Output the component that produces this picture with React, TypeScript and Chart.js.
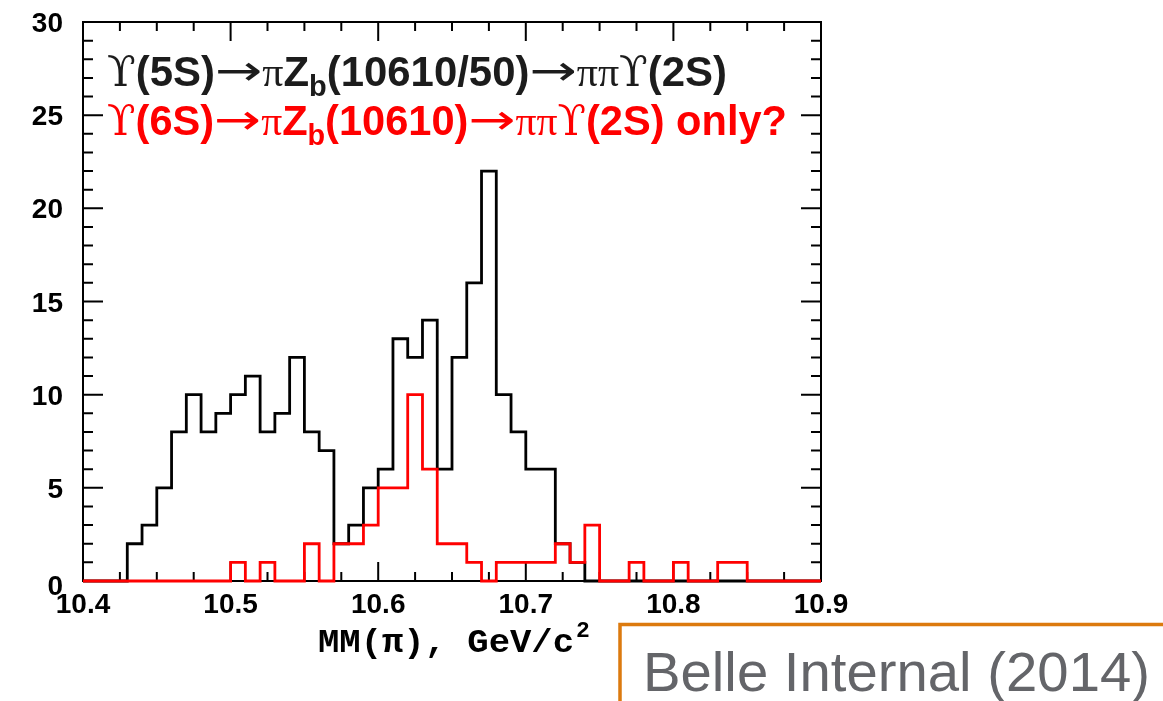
import { useEffect, useRef } from "react";
import { Chart, registerables } from "chart.js";

Chart.register(...registerables);

// ---- data (bin contents, 0.01 GeV bins starting at 10.40) ----
const binStart = 10.4;
const binWidth = 0.01;
const upsilon5S = [
  0, 0, 0, 2, 3, 5, 8, 10, 8, 9,
  10, 11, 8, 9, 12, 8, 7, 2, 3, 5,
  6, 13, 12, 14, 6, 12, 16, 22, 10, 8,
  6, 6, 2, 1, 0, 0, 0, 0, 0, 0,
  0, 0, 0, 0, 0, 0, 0, 0, 0, 0,
];
const upsilon6S = [
  0, 0, 0, 0, 0, 0, 0, 0, 0, 0,
  1, 0, 1, 0, 0, 2, 0, 2, 2, 3,
  5, 5, 10, 6, 2, 2, 1, 0, 1, 1,
  1, 1, 2, 1, 3, 0, 0, 1, 0, 0,
  1, 0, 0, 1, 1, 0, 0, 0, 0, 0,
];
const xTickValues = [10.4, 10.5, 10.6, 10.7, 10.8, 10.9];
const xTickLabels = ["10.4", "10.5", "10.6", "10.7", "10.8", "10.9"];
const yTickValues = [0, 5, 10, 15, 20, 25, 30];
const yTickLabels = ["0", "5", "10", "15", "20", "25", "30"];
const xMinorStep = 0.025;
const yMinorStep = 1;

const axisTitle = "MM(π), GeV/c";
const axisTitleSup = "2";
const watermark = "Belle Internal (2014)";

const SANS_B = (s: number) => `bold ${s}px "Liberation Sans", Arial, sans-serif`;
const SANS = (s: number) => `${s}px "Liberation Sans", Arial, sans-serif`;
const SERIF = (s: number) => `${s}px "Liberation Serif", "DejaVu Serif", serif`;
const UPS = (s: number) => `${s}px "DejaVu Serif", serif`;
const ARR = (s: number) => `${s}px "DejaVu Sans", sans-serif`;
const MONO_B = (s: number) => `bold ${s}px "Liberation Mono", "DejaVu Sans Mono", monospace`;

type Seg = { t: string; f: string; dy?: number; sx?: number };

const FS = 42;
const ARROW: Seg = { t: "→", f: ARR(FS), sx: 1.35, dy: -1 };
const line1: Seg[] = [
  { t: "ϒ", f: UPS(FS) },
  { t: "(5S)", f: SANS_B(FS) },
  ARROW,
  { t: "π", f: SERIF(FS) },
  { t: "Z", f: SANS_B(FS) },
  { t: "b", f: SANS_B(29), dy: 10 },
  { t: "(10610/50)", f: SANS_B(FS) },
  ARROW,
  { t: "ππ", f: SERIF(FS) },
  { t: "ϒ", f: UPS(FS) },
  { t: "(2S)", f: SANS_B(FS) },
];
const line2: Seg[] = [
  { t: "ϒ", f: UPS(FS) },
  { t: "(6S)", f: SANS_B(FS) },
  ARROW,
  { t: "π", f: SERIF(FS) },
  { t: "Z", f: SANS_B(FS) },
  { t: "b", f: SANS_B(29), dy: 10 },
  { t: "(10610)", f: SANS_B(FS) },
  ARROW,
  { t: "ππ", f: SERIF(FS) },
  { t: "ϒ", f: UPS(FS) },
  { t: "(2S) only?", f: SANS_B(FS) },
];

function histPoints(values: number[]) {
  const pts: { x: number; y: number }[] = [];
  for (let i = 0; i <= values.length; i++) {
    const x = +(binStart + i * binWidth).toFixed(4);
    const prev = i > 0 ? values[i - 1] : 0;
    const cur = i < values.length ? values[i] : 0;
    pts.push({ x, y: prev });
    pts.push({ x, y: cur });
  }
  return pts;
}

function drawRich(ctx: CanvasRenderingContext2D, segs: Seg[], x: number, y: number, color: string, targetW?: number) {
  ctx.save();
  ctx.fillStyle = color;
  ctx.textBaseline = "alphabetic";
  ctx.textAlign = "left";
  let w = 0;
  for (const s of segs) {
    ctx.font = s.f;
    w += ctx.measureText(s.t).width * (s.sx || 1);
  }
  const gx = targetW ? targetW / w : 1;
  ctx.translate(x, y);
  ctx.scale(gx, 1);
  let cx = 0;
  for (const s of segs) {
    ctx.font = s.f;
    const k = s.sx || 1;
    ctx.save();
    ctx.translate(cx, s.dy || 0);
    ctx.scale(k, 1);
    ctx.fillText(s.t, 0, 0);
    ctx.restore();
    cx += ctx.measureText(s.t).width * k;
  }
  ctx.restore();
}

const framePlugin = {
  id: "rootFrame",
  beforeDatasetsDraw(chart: any) {
    const { ctx, chartArea: a, scales } = chart;
    const xs = scales.x;
    const ys = scales.y;
    ctx.save();
    ctx.strokeStyle = "#000";
    ctx.lineWidth = 2;
    ctx.strokeRect(a.left, a.top, a.right - a.left, a.bottom - a.top);
    ctx.lineWidth = 2;
    ctx.beginPath();
    const nx = Math.round((xs.max - xs.min) / xMinorStep);
    for (let k = 0; k <= nx; k++) {
      const v = xs.min + k * xMinorStep;
      const px = xs.getPixelForValue(v);
      const major = k % 4 === 0;
      const len = major ? 19 : 9;
      ctx.moveTo(px, a.bottom);
      ctx.lineTo(px, a.bottom - len);
      ctx.moveTo(px, a.top);
      ctx.lineTo(px, a.top + len);
    }
    const ny = Math.round((ys.max - ys.min) / yMinorStep);
    for (let k = 0; k <= ny; k++) {
      const v = ys.min + k * yMinorStep;
      const py = ys.getPixelForValue(v);
      const len = k % 5 === 0 ? 20 : 10;
      ctx.moveTo(a.left, py);
      ctx.lineTo(a.left + len, py);
      ctx.moveTo(a.right, py);
      ctx.lineTo(a.right - len, py);
    }
    ctx.stroke();
    ctx.restore();
  },
  afterDatasetsDraw(chart: any) {
    const { ctx, chartArea: a, scales } = chart;
    const xs = scales.x;
    const ys = scales.y;
    ctx.save();
    ctx.fillStyle = "#000";
    ctx.font = SANS_B(28);
    ctx.textBaseline = "alphabetic";
    // y labels
    ctx.textAlign = "right";
    yTickValues.forEach((v, i) => {
      const py = ys.getPixelForValue(v);
      ctx.fillText(yTickLabels[i], a.left - 20, py + (v === 0 ? 14 : 10));
    });
    // x labels
    ctx.textAlign = "center";
    xTickValues.forEach((v, i) => {
      const px = xs.getPixelForValue(v);
      ctx.fillText(xTickLabels[i], px, a.bottom + 32);
    });
    ctx.restore();

    // annotations
    drawRich(ctx, line1, a.left + 24, 86, "#1c1c1c", 620);
    drawRich(ctx, line2, a.left + 24, 135, "#ff0000", 680);

    // axis title
    ctx.save();
    ctx.fillStyle = "#000";
    ctx.textBaseline = "alphabetic";
    ctx.textAlign = "left";
    ctx.font = MONO_B(34);
    const tw = ctx.measureText(axisTitle).width;
    const sx = 256 / tw;
    ctx.translate(318, 652);
    ctx.scale(sx, 1);
    ctx.fillText(axisTitle, 0, 0);
    ctx.font = MONO_B(22);
    ctx.fillText(axisTitleSup, tw + 2, -15);
    ctx.restore();

    // Belle internal box
    ctx.save();
    ctx.strokeStyle = "#dc7a0e";
    ctx.lineWidth = 3.5;
    ctx.beginPath();
    ctx.moveTo(620, 704);
    ctx.lineTo(620, 624.5);
    ctx.lineTo(1166, 624.5);
    ctx.stroke();
    ctx.fillStyle = "#646569";
    ctx.font = SANS(56);
    ctx.textAlign = "left";
    ctx.textBaseline = "alphabetic";
    const ww = ctx.measureText(watermark).width;
    ctx.translate(643, 691);
    ctx.scale(507 / ww, 1);
    ctx.fillText(watermark, 0, 0);
    ctx.restore();
  },
};

export default function App() {
  const ref = useRef<HTMLCanvasElement | null>(null);
  useEffect(() => {
    if (!ref.current) return;
    const chart = new Chart(ref.current, {
      type: "line",
      data: {
        datasets: [
          {
            label: "Y(6S)",
            data: histPoints(upsilon6S),
            borderColor: "#ff0000",
            borderWidth: 2.8,
            pointRadius: 0,
            tension: 0,
            fill: false,
            clip: false as any,
            borderJoinStyle: "miter",
          },
          {
            label: "Y(5S)",
            data: histPoints(upsilon5S),
            borderColor: "#000000",
            borderWidth: 2.8,
            pointRadius: 0,
            tension: 0,
            fill: false,
            clip: false as any,
            borderJoinStyle: "miter",
          },
        ],
      },
      options: {
        animation: false,
        responsive: false,
        devicePixelRatio: 1,
        events: [],
        parsing: false as any,
        layout: { padding: { left: 83, top: 22, right: 342, bottom: 120 } },
        plugins: { legend: { display: false }, tooltip: { enabled: false } },
        scales: {
          x: { type: "linear", min: 10.4, max: 10.9, display: false },
          y: { type: "linear", min: 0, max: 30, display: false },
        },
      },
      plugins: [framePlugin],
    });
    return () => chart.destroy();
  }, []);
  return (
    <div style={{ position: "fixed", left: 0, top: 0, width: 1163, height: 701, background: "#fff" }}>
      <canvas ref={ref} width={1163} height={701} style={{ width: 1163, height: 701, display: "block" }} />
    </div>
  );
}
